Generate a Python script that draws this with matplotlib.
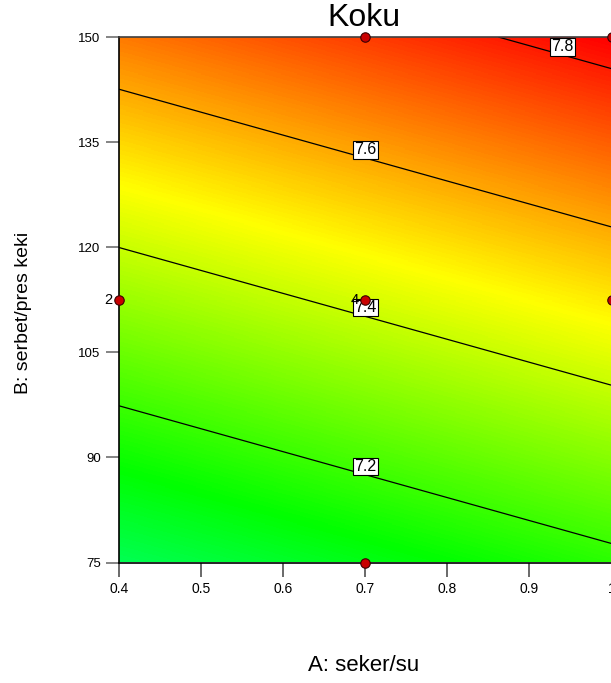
import numpy as np
import matplotlib
matplotlib.use("Agg")
import matplotlib.pyplot as plt
from matplotlib.colors import LinearSegmentedColormap, Normalize

# design factor levels
a_levels = [0.4, 0.7, 1.0]          # A: seker/su
b_levels = [75.0, 112.5, 150.0]     # B: serbet/pres keki

# fitted Koku response at the grid points (rows = B, cols = A)
koku_b75 = [7.002, 7.089, 7.176]
koku_b112 = [7.334, 7.421, 7.508]
koku_b150 = [7.666, 7.753, 7.840]

contour_levels = [7.2, 7.4, 7.6, 7.8]
# where the boxed contour labels sit (A, B)
label_pos = [(0.70, 88.7), (0.70, 111.4), (0.70, 133.9), (0.940, 148.6)]

# design points and replicate counts
pt_a = [0.7, 1.0, 0.4, 0.7, 1.0, 0.7]
pt_b = [150.0, 150.0, 112.5, 112.5, 112.5, 75.0]
pt_count = [1, 1, 2, 4, 1, 1]

x_ticks = [0.4, 0.5, 0.6, 0.7, 0.8, 0.9, 1.0]
x_ticklabels = ["0.4", "0.5", "0.6", "0.7", "0.8", "0.9", "1"]
y_ticks = [75, 90, 105, 120, 135, 150]

plt.rcParams['font.family'] = ['Liberation Sans', 'DejaVu Sans']

Z = np.array([koku_b75, koku_b112, koku_b150])

# Design-Expert style blue-cyan-green-yellow-red
cmap = LinearSegmentedColormap.from_list(
    'dx', [(0, 0, 1), (0, 1, 1), (0, 1, 0), (1, 1, 0), (1, 0, 0)])
norm = Normalize(vmin=6.40, vmax=7.84)

W, H = 611, 683
fig = plt.figure(figsize=(W / 100, H / 100), dpi=100)
ax = fig.add_axes([119 / W, (H - 562.5) / H, (611.5 - 119) / W, 525.5 / H])

da = (a_levels[1] - a_levels[0]) / 2
db = (b_levels[1] - b_levels[0]) / 2
ax.imshow(Z, cmap=cmap, norm=norm, origin='lower', aspect='auto',
          interpolation='bilinear', interpolation_stage='data',
          extent=(a_levels[0] - da, a_levels[-1] + da, b_levels[0] - db, b_levels[-1] + db),
          zorder=1)
ax.contour(a_levels, b_levels, Z, levels=contour_levels, colors='black',
           linewidths=0.9, zorder=2)

for lev, (la, lb) in zip(contour_levels, label_pos):
    ax.text(la, lb, f"{lev:.1f}", ha='center', va='center', fontsize=11.5,
            zorder=3,
            bbox=dict(boxstyle='square,pad=0.08', fc='white', ec='black', lw=0.8))

ax.plot(pt_a, pt_b, 'o', ms=6.8, mfc='#c80000', mec='#3a0000', mew=0.8,
        clip_on=False, zorder=5)
for a, b, n in zip(pt_a, pt_b, pt_count):
    if n > 1:
        ax.annotate(str(n), (a, b), xytext=(-4.5, 0), textcoords='offset points',
                    ha='right', va='center', fontsize=10.5, zorder=6,
                    annotation_clip=False)

ax.set_xlim(0.4, 1.0)
ax.set_ylim(75, 150)
ax.set_xticks(x_ticks)
ax.set_xticklabels(x_ticklabels)
ax.set_yticks(y_ticks)
ax.tick_params(axis='x', length=10, width=1.2, color='#505050', pad=4, labelsize=10)
ax.tick_params(axis='y', length=9.6, width=1.2, color='#707070', pad=3.6, labelsize=9.5)
for s in ['left', 'bottom']:
    ax.spines[s].set_color('black')
    ax.spines[s].set_linewidth(1.2)
ax.spines['top'].set_color('#404040')
ax.spines['top'].set_linewidth(1.2)
ax.spines['right'].set_visible(False)

fig.text(364 / W, (H - 26) / H, "Koku", ha='center', va='baseline', fontsize=23)
fig.text(364 / W, (H - 671) / H, "A: seker/su", ha='center', va='baseline', fontsize=16)
fig.text(24 / W, (H - 313) / H, "B: serbet/pres keki", ha='center', va='center',
         rotation=90, fontsize=14)

fig.savefig("out.png", dpi=100)
